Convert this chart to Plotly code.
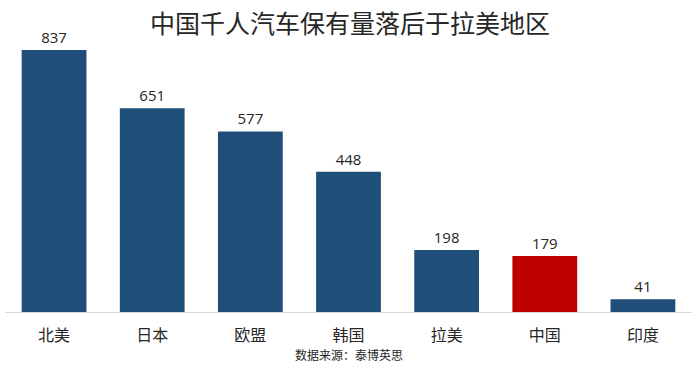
import plotly.graph_objects as go

categories = ["北美", "日本", "欧盟", "韩国", "拉美", "中国", "印度"]
values = [837, 651, 577, 448, 198, 179, 41]
highlight = "中国"
title_text = "中国千人汽车保有量落后于拉美地区"
source_text = "数据来源：泰博英思"

BLUE = "#1F4E79"
RED = "#C00000"
colors = [RED if c == highlight else BLUE for c in categories]

FONT = "Noto Sans CJK SC, Open Sans, sans-serif"

W, H = 700, 368

fig = go.Figure(go.Bar(
    x=categories, y=values,
    marker=dict(color=colors, line=dict(width=0)),
    text=[str(v) for v in values],
    textposition="outside",
    textfont=dict(size=15, color="#262626", family="Open Sans, sans-serif"),
    cliponaxis=False,
    hoverinfo="skip",
))

fig.update_layout(
    width=W, height=H,
    margin=dict(l=5, r=8, t=40, b=56),
    paper_bgcolor="white", plot_bgcolor="white",
    font=dict(family=FONT, color="#262626"),
    bargap=0.34,
    showlegend=False,
    title=dict(text=title_text, x=0.5, xanchor="center", y=1 - 24 / H,
               yanchor="middle", yref="container",
               font=dict(size=25, color="#262626", family=FONT)),
    xaxis=dict(showline=True, linecolor="#D9D9D9", linewidth=1,
               automargin=False,
               ticks="outside", ticklen=9, tickcolor="rgba(0,0,0,0)",
               tickfont=dict(size=16, color="#262626", family=FONT),
               showgrid=False),
    yaxis=dict(range=[0, 869], visible=False, showgrid=False, zeroline=False),
    annotations=[dict(text=source_text, xref="paper", yref="paper", x=0.5, y=0,
                      xanchor="center", yanchor="middle", yshift=-42,
                      showarrow=False,
                      font=dict(size=12, color="#262626", family=FONT))],
)

# remove the default 8px page margin so the figure fills the window exactly
fig.write_html("out.html", config={"displayModeBar": False},
               post_script="document.body.style.margin='0';")
